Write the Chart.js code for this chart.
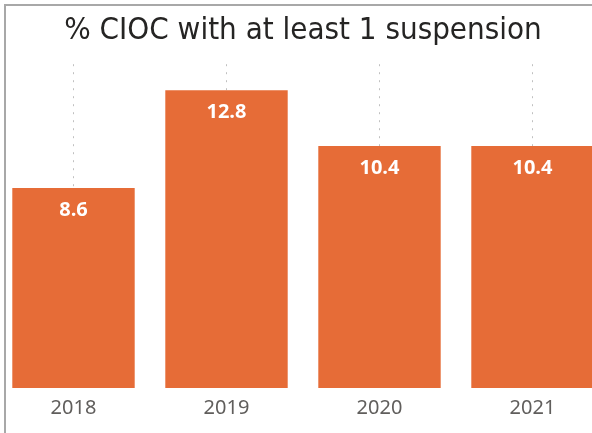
<!DOCTYPE html>
<html>
<head>
<meta charset="utf-8">
<script src="https://cdn.jsdelivr.net/npm/chart.js@4/dist/chart.umd.min.js"></script>
<style>
  html, body { margin: 0; padding: 0; background: #ffffff; overflow: hidden; width: 592px; height: 433px; }
  #frame { position: absolute; left: 4px; top: 4px; width: 700px; height: 500px;
           border-top: 2px solid #a8a8a8; border-left: 2px solid #a8a8a8; }
  #wrap { position: absolute; left: -3px; top: 0; width: 612px; height: 433px; }
</style>
</head>
<body>
<div id="frame"></div>
<div id="wrap"><canvas id="c"></canvas></div>
<script>
const categories = ["2018", "2019", "2020", "2021"];
const pctSuspension = [8.6, 12.8, 10.4, 10.4];
const chartTitle = "% CIOC with at least 1 suspension";

const valueLabels = {
  id: "valueLabels",
  afterDatasetsDraw(chart) {
    const ctx = chart.ctx;
    const meta = chart.getDatasetMeta(0);
    ctx.save();
    ctx.fillStyle = "#ffffff";
    ctx.font = "bold 20px 'Open Sans', 'Noto Sans', sans-serif";
    ctx.textAlign = "center";
    ctx.textBaseline = "middle";
    meta.data.forEach((bar, i) => {
      ctx.fillText(pctSuspension[i].toFixed(1), bar.x, bar.y + 22);
    });
    ctx.restore();
  }
};

new Chart(document.getElementById("c"), {
  type: "bar",
  data: {
    labels: categories,
    datasets: [{
      data: pctSuspension,
      backgroundColor: "#E66C37",
      borderWidth: 0,
      barPercentage: 0.8,
      categoryPercentage: 1.0
    }]
  },
  options: {
    responsive: true,
    maintainAspectRatio: false,
    animation: false,
    layout: { padding: { left: 0, right: 0, top: 0, bottom: 5 } },
    plugins: {
      legend: { display: false },
      tooltip: { enabled: false },
      title: {
        display: true,
        text: chartTitle,
        color: "#252423",
        font: { family: "'DejaVu Sans Condensed', 'DejaVu Sans', sans-serif", size: 31, weight: "normal", lineHeight: 1.2 },
        padding: { top: 12, bottom: 15 }
      }
    },
    scales: {
      x: {
        grid: { display: true, offset: false, drawTicks: false, color: "#c0c0c0", lineWidth: 1 },
        border: { display: false, dash: [2, 6] },
        ticks: { color: "#605E5C", padding: 8, font: { family: "'Noto Sans', 'Open Sans', sans-serif", size: 20 } }
      },
      y: {
        display: false,
        min: 0,
        max: 13.92
      }
    }
  },
  plugins: [valueLabels]
});
</script>
</body>
</html>
